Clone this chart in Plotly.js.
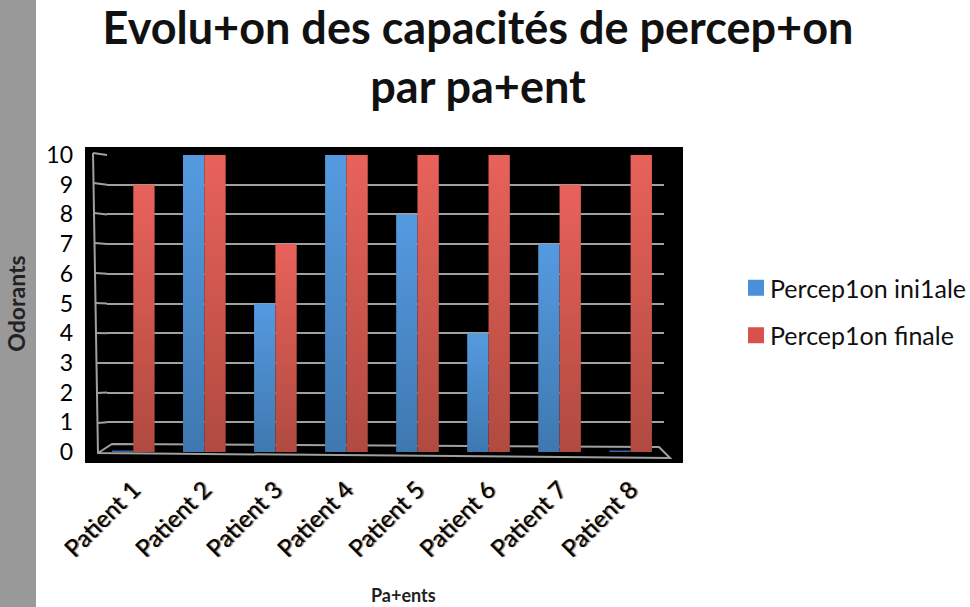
<!DOCTYPE html>
<html><head><meta charset="utf-8">
<script src="https://cdn.plot.ly/plotly-3.0.1.min.js"></script>
<style>html,body{margin:0;padding:0;background:#fff}#c{width:970px;height:607px}</style>
</head><body><div id="c"></div>
<script>
const patients = ["Patient 1","Patient 2","Patient 3","Patient 4","Patient 5","Patient 6","Patient 7","Patient 8"];
const initiale = [0,10,5,10,8,4,7,0];
const finale = [9,10,7,10,10,10,9,10];
const yTicks = [0,1,2,3,4,5,6,7,8,9,10];
const W=970,H=607,L=107,R=664,T=155,B=452;
const px=x=>(x-L)/(R-L), py=y=>(B-y)/(B-T);
const FONT='Lato, "Open Sans", sans-serif';
const pathOf=pts=>pts.map((p,i)=>(i?'L':'M')+px(p[0]).toFixed(4)+','+py(p[1]).toFixed(4)).join(' ');
const frame=pts=>({type:'path',xref:'paper',yref:'paper',layer:'below',line:{color:'#a0a0a0',width:2},path:pathOf(pts)});
const traces=[
 {type:'bar',name:'Percep1on ini1ale',x:patients,y:initiale,legendgroup:'a',
  marker:{color:'#4a90d9',line:{color:'#2f6ba8',width:initiale.map(v=>v===0?3:0)}}},
 {type:'bar',name:'Percep1on finale',x:patients,y:finale,legendgroup:'b',
  marker:{color:'#d9524a',line:{width:0}}}
];
const connectors=yTicks.filter(v=>v>0).map(v=>frame([[93+0.5*(10-v),153+30*(10-v)],[107,155+29.7*(10-v)]]));
const layout={
 width:W,height:H,showlegend:true,bargap:0.4,bargroupgap:0,barmode:'group',
 paper_bgcolor:'#fff',plot_bgcolor:'rgba(0,0,0,0)',
 margin:{l:L,r:W-R,t:T,b:H-B,pad:0,autoexpand:false},
 font:{family:FONT,color:'#000'},
 title:{text:'<b>Evolu+on des capacités de percep+on<br>par pa+ent</b>',font:{size:45,family:FONT,color:'#111'},
  x:478/W,xanchor:'center',y:1-44/H,yanchor:'middle'},
 xaxis:{type:'category',range:[-0.37,7.47],showgrid:false,zeroline:false,showline:false,
  tickangle:-45,ticks:'',ticklabelstandoff:18,
  tickfont:{size:24,family:FONT,color:'#000',shadow:'1px 1px 1px #666'}},
 yaxis:{range:[0,10],tickmode:'array',tickvals:yTicks,ticktext:yTicks.map(String),showgrid:true,gridcolor:'#a0a0a0',gridwidth:2,
  zeroline:false,showline:false,ticks:'',ticklabelstandoff:33,tickfont:{size:23,family:FONT,color:'#000'},
  title:{text:'<b>Odorants</b>',font:{size:23,family:FONT,color:'#222'},standoff:14}},
 legend:{x:px(730),y:py(265),xanchor:'left',yanchor:'top',traceorder:'grouped',tracegroupgap:12,
  font:{size:25,family:FONT,color:'#111'},itemwidth:30,bgcolor:'rgba(0,0,0,0)'},
 annotations:[{text:'<b>Pa+ents</b>',xref:'paper',yref:'paper',x:px(403),y:py(595),xanchor:'center',yanchor:'middle',showarrow:false,
  font:{size:18,family:FONT,color:'#222'}}],
 shapes:[
  {type:'rect',xref:'paper',yref:'paper',layer:'below',x0:px(0),x1:px(36),y0:py(H),y1:py(0),fillcolor:'#999',line:{width:0}},
  {type:'rect',xref:'paper',yref:'paper',layer:'below',x0:px(85),x1:px(683),y0:py(463),y1:py(147),fillcolor:'#000',line:{width:0}},
  frame([[93,153],[98,453],[670,458],[659,447],[112,444],[98,453]])
 ].concat(connectors)
};
Plotly.newPlot('c',traces,layout,{displayModeBar:false,responsive:false}).then(gd=>{
 const svg=gd.querySelector('svg.main-svg');
 const NS='http://www.w3.org/2000/svg';
 const defs=svg.querySelector('defs')||svg.appendChild(document.createElementNS(NS,'defs'));
 const mk=(id,a,b)=>{const g=document.createElementNS(NS,'linearGradient');g.setAttribute('id',id);g.setAttribute('x1','0');g.setAttribute('x2','0');g.setAttribute('y1','0');g.setAttribute('y2','1');
  [[0,a],[1,b]].forEach(s=>{const t=document.createElementNS(NS,'stop');t.setAttribute('offset',s[0]);t.setAttribute('stop-color',s[1]);g.appendChild(t);});defs.appendChild(g);};
 mk('gb','#559ae0','#3f78b0');mk('gr','#e8625a','#b04a40');
 gd.querySelectorAll('.barlayer .trace').forEach((t,i)=>{t.querySelectorAll('path').forEach(p=>{p.style.fill='url(#'+(i?'gr':'gb')+')';});});
 const grid=gd.querySelectorAll('.gridlayer .y path, .gridlayer .ygrid');
 if(grid.length===yTicks.length){grid[0].style.display='none';}
 gd.querySelectorAll('.legend .legendbar path, .legend .legendpoints path').forEach(p=>{
  p.setAttribute('d','M14,8H-2V-8H14Z');p.style.strokeWidth='0';
 });
});
</script></body></html>
